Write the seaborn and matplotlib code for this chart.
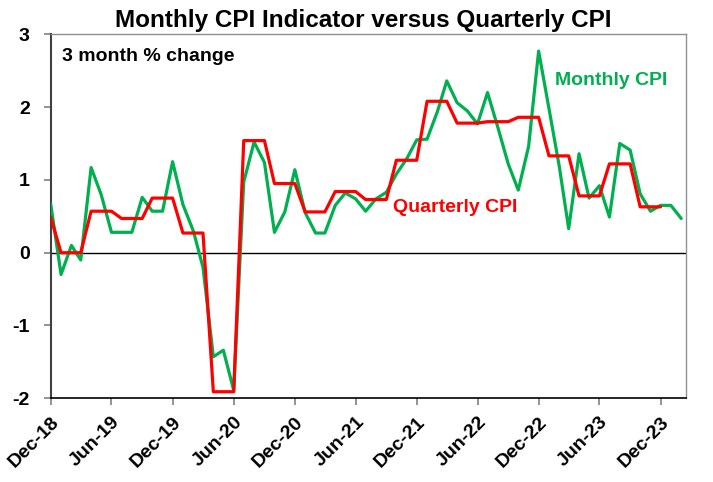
import matplotlib
matplotlib.use("Agg")
import matplotlib.pyplot as plt
import numpy as np
import pandas as pd
import seaborn as sns

# monthly dates Dec-18 .. Feb-24
months = pd.date_range("2018-12-01", "2024-02-01", freq="MS")

# 3 month % change, monthly CPI indicator
monthly_cpi = [0.67, -0.30, 0.10, -0.10, 1.17, 0.80, 0.28, 0.28, 0.28, 0.76,
               0.57, 0.57, 1.25, 0.66, 0.30, -0.20, -1.43, -1.34, -1.89, 0.97,
               1.52, 1.24, 0.28, 0.56, 1.14, 0.55, 0.27, 0.27, 0.65, 0.82,
               0.74, 0.57, 0.74, 0.83, 1.08, 1.29, 1.55, 1.56, 1.94, 2.36,
               2.06, 1.95, 1.77, 2.20, 1.72, 1.22, 0.86, 1.46, 2.77, 1.98,
               1.18, 0.33, 1.36, 0.75, 0.92, 0.49, 1.50, 1.41, 0.81, 0.57,
               0.65, 0.65, 0.47]

# quarterly CPI, held flat across each quarter's months
quarterly_cpi = [0.49,
                 0.00, 0.00, 0.00,
                 0.57, 0.57, 0.57,
                 0.47, 0.47, 0.47,
                 0.75, 0.75, 0.75,
                 0.27, 0.27, 0.27,
                 -1.91, -1.91, -1.91,
                 1.54, 1.54, 1.54,
                 0.95, 0.95, 0.95,
                 0.56, 0.56, 0.56,
                 0.84, 0.84, 0.84,
                 0.73, 0.73, 0.73,
                 1.27, 1.27, 1.27,
                 2.08, 2.08, 2.08,
                 1.78, 1.78, 1.78,
                 1.80, 1.80, 1.80,
                 1.86, 1.86, 1.86,
                 1.33, 1.33, 1.33,
                 0.78, 0.78, 0.78,
                 1.22, 1.22, 1.22,
                 0.63, 0.63, 0.63,
                 np.nan, np.nan]

tick_dates = pd.date_range("2018-12-01", "2023-12-01", freq="6MS")
tick_labels = [d.strftime("%b-%y") for d in tick_dates]

df = pd.DataFrame({"date": months, "Monthly CPI": monthly_cpi,
                   "Quarterly CPI": quarterly_cpi})

sns.set_style("white")
plt.rcParams["font.family"] = ["Liberation Sans", "DejaVu Sans"]
plt.rcParams["font.weight"] = "bold"
plt.rcParams["text.color"] = "black"
plt.rcParams["xtick.labelcolor"] = "black"
plt.rcParams["ytick.labelcolor"] = "black"

GREEN = "#00B050"
RED = "#FF0000"

fig = plt.figure(figsize=(7.13, 4.82), dpi=100)
ax = fig.add_axes([0.0711, 0.1737, 0.8909, 0.7551])

ax.axhline(0, color="black", lw=1, zorder=1)
sns.lineplot(data=df, x="date", y="Monthly CPI", color=GREEN, lw=2.3, ax=ax, zorder=3)
sns.lineplot(data=df, x="date", y="Quarterly CPI", color=RED, lw=2.3, ax=ax, zorder=4)

ax.set_xlim(pd.Timestamp("2018-12-01"), pd.Timestamp("2024-02-15"))
ax.set_ylim(-2, 3)
ax.set_yticks([-2, -1, 0, 1, 2, 3])
ax.set_yticklabels(["-2", "-1", "0", "1", "2", "3"], fontsize=14, fontweight="bold",
                   color="black")
ax.set_xticks(tick_dates)
ax.set_xticklabels(tick_labels, rotation=45, ha="right", rotation_mode="anchor",
                   fontsize=14, fontweight="bold", color="black")
ax.set_xlabel("")
ax.set_ylabel("")
ax.tick_params(axis="both", direction="out", length=5, width=1.2, color="#808080",
               bottom=True, left=True)
ax.tick_params(axis="y", pad=10)
ax.tick_params(axis="x", pad=6)

for side in ["top", "right"]:
    ax.spines[side].set_color("#909090")
    ax.spines[side].set_linewidth(1)
ax.spines["left"].set_color("#404040")
ax.spines["left"].set_linewidth(1.5)
ax.spines["bottom"].set_color("black")
ax.spines["bottom"].set_linewidth(1.2)

ax.text(0.018, 0.94, "3 month % change", transform=ax.transAxes, fontsize=14,
        fontweight="bold", color="black", va="center", ha="left")
ax.text(0.794, 0.874, "Monthly CPI", transform=ax.transAxes, fontsize=14,
        fontweight="bold", color=GREEN, va="center", ha="left")
ax.text(0.539, 0.523, "Quarterly CPI", transform=ax.transAxes, fontsize=14,
        fontweight="bold", color=RED, va="center", ha="left")

fig.text(0.509, 0.958, "Monthly CPI Indicator versus Quarterly CPI", fontsize=17.5,
         fontweight="bold", color="black", ha="center", va="center")

fig.savefig("out.png", dpi=100)
